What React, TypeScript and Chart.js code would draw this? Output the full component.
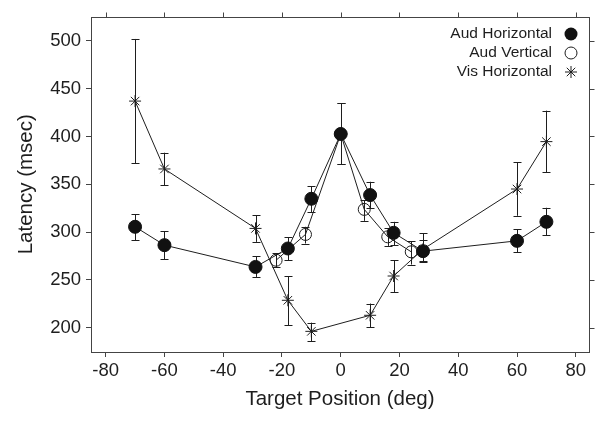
import React, { useEffect, useRef } from 'react';
import { Chart, registerables } from 'chart.js';

Chart.register(...registerables);

// Aud Horizontal (filled circles)
const audHX = [-70, -60, -29, -18, -10, 0, 10, 18, 28, 60, 70];
const audHY = [305.5, 286.3, 263.5, 282.8, 334.8, 402.6, 338.7, 299.2, 280, 290.8, 310.7];
const audHLo = [291.5, 271.3, 253, 270.5, 321, 371, 325, 286.3, 268.8, 279, 296.7];
const audHHi = [318.8, 301, 274.7, 294.3, 348, 435, 352.6, 310.7, 292, 303, 325.4];

// Aud Vertical (open circles)
const audVX = [-22, -12, 0, 8, 16, 24];
const audVY = [270.5, 297.5, 402.6, 323.7, 295, 279.3];
const audVLo = [263, 288, 371, 311.7, 285.5, 266];
const audVHi = [278, 305.5, 435, 333.4, 303.8, 290.5];

// Vis Horizontal (stars)
const visHX = [-70, -60, -29, -18, -10, 10, 18, 28, 60, 70];
const visHY = [437, 366, 303.8, 228.6, 196.1, 212.9, 254, 282, 345, 394.6];
const visHLo = [372, 349, 289.7, 202.4, 185.6, 200.6, 237.3, 270, 317, 362.5];
const visHHi = [502, 383, 317.7, 254, 205.2, 225.2, 270.5, 298.5, 373, 427];

const xTicks = [-80, -60, -40, -20, 0, 20, 40, 60, 80];
const yTicks = [200, 250, 300, 350, 400, 450, 500];

const legendLabels = ['Aud Horizontal', 'Aud Vertical', 'Vis Horizontal'];

const FONT = '"Liberation Sans", Arial, Helvetica, sans-serif';
const INK = '#1e1e1e';
const FRAME = '#444';

const errLo = [audHLo, audVLo, visHLo];
const errHi = [audHHi, audVHi, visHHi];

function drawStar(ctx: CanvasRenderingContext2D, x: number, y: number, r: number) {
  ctx.beginPath();
  for (let k = 0; k < 4; k++) {
    const a = (k * Math.PI) / 4;
    ctx.moveTo(x - r * Math.cos(a), y - r * Math.sin(a));
    ctx.lineTo(x + r * Math.cos(a), y + r * Math.sin(a));
  }
  ctx.stroke();
}

const errorBarPlugin = {
  id: 'errorBars',
  beforeDatasetsDraw(chart: any) {
    const ctx = chart.ctx as CanvasRenderingContext2D;
    const xs = chart.scales.x;
    const ys = chart.scales.y;
    ctx.save();
    ctx.strokeStyle = INK;
    ctx.lineWidth = 1;
    chart.data.datasets.forEach((ds: any, i: number) => {
      ds.data.forEach((p: any, j: number) => {
        const px = Math.round(xs.getPixelForValue(p.x)) + 0.5;
        const lo = ys.getPixelForValue(errLo[i][j]);
        const hi = ys.getPixelForValue(errHi[i][j]);
        ctx.beginPath();
        ctx.moveTo(px, lo);
        ctx.lineTo(px, hi);
        ctx.moveTo(px - 4, Math.round(lo) + 0.5);
        ctx.lineTo(px + 4, Math.round(lo) + 0.5);
        ctx.moveTo(px - 4, Math.round(hi) + 0.5);
        ctx.lineTo(px + 4, Math.round(hi) + 0.5);
        ctx.stroke();
      });
    });
    ctx.restore();
  },
};

const framePlugin = {
  id: 'frameLegend',
  afterDraw(chart: any) {
    const ctx = chart.ctx as CanvasRenderingContext2D;
    const { left, right, top, bottom } = chart.chartArea;
    const xs = chart.scales.x;
    const ys = chart.scales.y;
    ctx.save();
    ctx.strokeStyle = FRAME;
    ctx.lineWidth = 1;
    const L = Math.round(left) + 0.5;
    const R = Math.round(right) + 0.5;
    const T = Math.round(top) + 0.5;
    const B = Math.round(bottom) + 0.5;
    ctx.strokeRect(L, T, R - L, B - T);
    ctx.beginPath();
    xTicks.forEach((v) => {
      const px = Math.round(xs.getPixelForValue(v)) + 0.5;
      ctx.moveTo(px, T);
      ctx.lineTo(px, T - 5);
    });
    yTicks.forEach((v) => {
      const py = Math.round(ys.getPixelForValue(v)) + 0.5;
      ctx.moveTo(R, py);
      ctx.lineTo(R + 5, py);
    });
    ctx.stroke();

    // legend
    ctx.font = `15.5px ${FONT}`;
    ctx.fillStyle = INK;
    ctx.textAlign = 'right';
    ctx.textBaseline = 'middle';
    const rows = [34, 53, 72];
    const tx = 552;
    const mx = 571;
    legendLabels.forEach((lab, i) => {
      ctx.fillText(lab, tx, rows[i]);
    });
    ctx.strokeStyle = INK;
    ctx.fillStyle = '#111';
    ctx.beginPath();
    ctx.arc(mx, rows[0], 6.5, 0, Math.PI * 2);
    ctx.fill();
    ctx.beginPath();
    ctx.arc(mx, rows[1], 6, 0, Math.PI * 2);
    ctx.stroke();
    drawStar(ctx, mx, rows[2], 6);
    ctx.restore();
  },
};

export default function App() {
  const ref = useRef<HTMLCanvasElement | null>(null);

  useEffect(() => {
    document.body.style.margin = '0';
    const canvas = ref.current;
    if (!canvas) return;
    const mk = (xs: number[], ys: number[]) => xs.map((x, i) => ({ x, y: ys[i] }));
    const chart = new Chart(canvas, {
      type: 'scatter',
      data: {
        datasets: [
          {
            label: 'Aud Horizontal',
            data: mk(audHX, audHY),
            showLine: true,
            borderColor: INK,
            borderWidth: 1,
            pointStyle: 'circle',
            pointRadius: 6.5,
            pointBackgroundColor: '#111',
            pointBorderColor: '#111',
            pointBorderWidth: 1,
          },
          {
            label: 'Aud Vertical',
            data: mk(audVX, audVY),
            showLine: true,
            borderColor: INK,
            borderWidth: 1,
            pointStyle: 'circle',
            pointRadius: 6,
            pointBackgroundColor: 'rgba(0,0,0,0)',
            pointBorderColor: INK,
            pointBorderWidth: 1,
          },
          {
            label: 'Vis Horizontal',
            data: mk(visHX, visHY),
            showLine: true,
            borderColor: INK,
            borderWidth: 1,
            pointStyle: 'star',
            pointRadius: 6,
            pointBackgroundColor: INK,
            pointBorderColor: INK,
            pointBorderWidth: 1,
          },
        ],
      },
      options: {
        animation: false,
        responsive: false,
        devicePixelRatio: 1,
        layout: { padding: { top: 16.5, right: 12, left: 0, bottom: 0 } },
        plugins: { legend: { display: false }, tooltip: { enabled: false } },
        scales: {
          x: {
            type: 'linear',
            min: -85,
            max: 84.5,
            afterBuildTicks: (s: any) => {
              s.ticks = xTicks.map((v) => ({ value: v }));
            },
            afterFit: (s: any) => {
              s.height = 70;
            },
            border: { display: false },
            grid: { display: true, drawOnChartArea: false, drawTicks: true, tickLength: 5, color: FRAME },
            ticks: { color: INK, font: { family: FONT, size: 18.5 }, padding: 3, maxRotation: 0 },
            title: {
              display: true,
              text: 'Target Position (deg)',
              color: INK,
              font: { family: FONT, size: 20.5 },
              padding: { top: 0, bottom: 10.5 },
            },
          },
          y: {
            type: 'linear',
            min: 174.5,
            max: 525.5,
            afterBuildTicks: (s: any) => {
              s.ticks = yTicks.map((v) => ({ value: v }));
            },
            afterFit: (s: any) => {
              s.width = 91;
            },
            border: { display: false },
            grid: { display: true, drawOnChartArea: false, drawTicks: true, tickLength: 5, color: FRAME },
            ticks: { color: INK, font: { family: FONT, size: 18.5 }, padding: 5 },
            title: {
              display: true,
              text: 'Latency (msec)',
              color: INK,
              font: { family: FONT, size: 20.5 },
              padding: { top: 14.5, bottom: 0 },
            },
          },
        },
      },
      plugins: [errorBarPlugin, framePlugin],
    } as any);
    return () => chart.destroy();
  }, []);

  return (
    <div style={{ width: 601, height: 422 }}>
      <canvas ref={ref} width={601} height={422} style={{ display: 'block', width: 601, height: 422 }} />
    </div>
  );
}
